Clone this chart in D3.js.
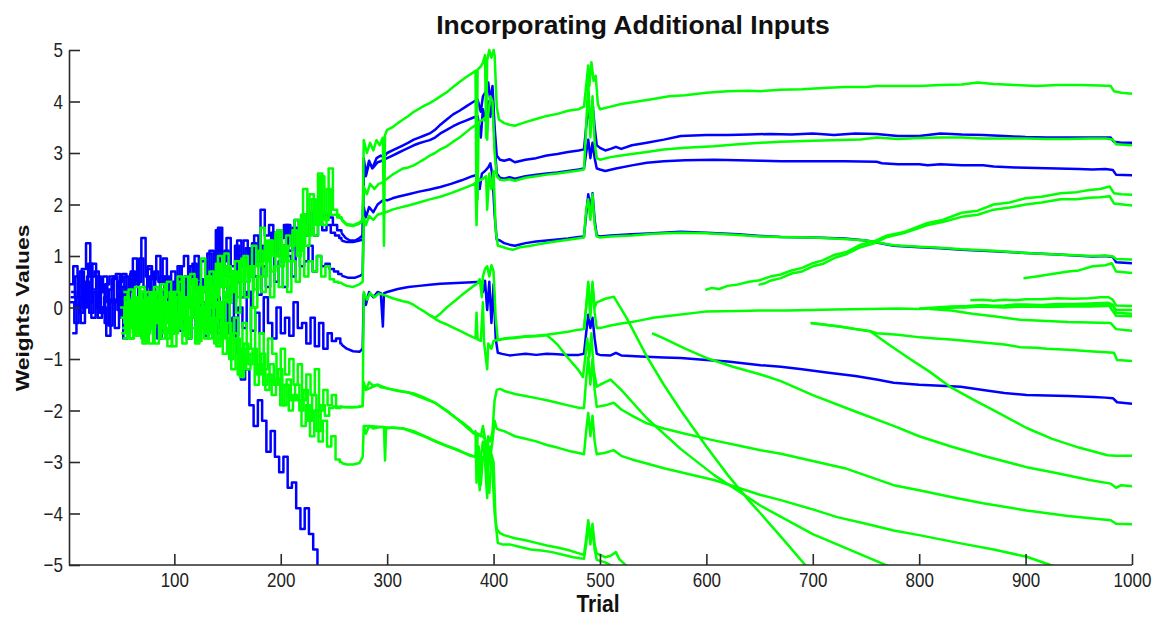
<!DOCTYPE html>
<html>
<head>
<meta charset="utf-8">
<script src="https://cdn.jsdelivr.net/npm/d3@7"></script>
<style>
  body { margin: 0; background: #fff; }
  text { font-family: "Liberation Sans", Arial, sans-serif; }
</style>
</head>
<body>
<svg id="chart" width="1160" height="618"></svg>
<script>
// ---- tick labels ----
const xTicks = [100, 200, 300, 400, 500, 600, 700, 800, 900, 1000];
const yTicks = [-5, -4, -3, -2, -1, 0, 1, 2, 3, 4, 5];

// ---- early noisy phase: one value every 4 trials, each weight sampled at its own offset ----
const noiseStep = 4;

const blueNoiseA = [
  0.45, 0.8, 0.2, 0.75, 1.25, 0.6, 0.7, 0.3,
  0.6, 0.1, 0.55, 0.65, 0.2, 0.6, 0.35, 0.95,
  0.5, 1.35, 0.6, 0.2, 0.7, 0.5, 0.95, 0.4,
  0.7, 0.25, 0.8, 1.0, 0.5, 0.85, 0.3, 0.9,
  0.6, 1.1, 0.7, 1.55, 0.9, 1.35, 0.8, 1.2,
  0.9, 1.3, 1.0, 1.25, 0.9, 1.9, 1.4, 1.6,
  1.1, 1.5, 1.2, 1.6, 1.3, 1.7, 1.5, 1.8,
  1.6, 1.85, 2.0, 1.75, 1.8, 1.75, 1.6, 1.5];
const blueNoiseB = [
  0.3, 0.05, 0.7, 0.4, 0.85, 0.35, 0.6, 0.0,
  0.45, 0.6, 0.15, 0.5, 0.65, 0.3, 0.7, 0.45,
  0.95, 0.4, 0.8, 0.55, 1.0, 0.3, 0.6, 0.2,
  0.5, 0.8, 0.15, 0.6, 0.45, 1.0, 0.55, 0.4,
  1.05, 0.5, 1.5, 0.6, 1.1, 0.7, 0.45, 1.3,
  0.8, 1.15, 0.6, 1.4, 0.9, 1.2, 1.1, 1.45,
  1.0, 1.35, 1.6, 1.1, 1.55, 1.35, 1.7, 1.4,
  1.55, 1.4, 1.65, 1.5, 1.6, 1.45, 1.4, 1.35];
const blueNoiseC = [
  0.1, -0.3, 0.4, 0.0, 0.6, -0.2, 0.3, -0.1,
  0.2, -0.35, 0.1, 0.5, -0.2, 0.3, 0.0, 0.55,
  -0.1, 0.3, 0.0, 0.6, 0.1, -0.3, 0.35, 0.0,
  0.4, -0.15, 0.25, 0.6, 0.05, 0.45, -0.1, 0.3,
  0.0, 0.55, 0.15, 0.8, 0.2, 0.6, 0.1, 0.5,
  0.2, 0.9, 0.3, 0.6, 0.25, 0.8, 0.4, 1.1,
  0.5, 0.9, 0.4, 1.0, 0.6, 1.3, 0.8, 0.9,
  1.2, 0.7, 1.0, 0.8, 0.85, 0.75, 0.7, 0.65];
const blueNoiseD = [
  -0.5, 0.2, -0.3, 0.5, -0.1, 0.3, -0.2, 0.0,
  -0.55, 0.15, -0.4, 0.3, -0.6, 0.1, -0.3, 0.2,
  -0.55, 0.0, -0.4, 0.25, -0.6, -0.1, 0.2, -0.5,
  0.1, -0.45, -0.1, -0.6, 0.2, -0.35, 0.05, -0.55,
  -0.2, 0.3, -0.5, 0.1, -0.3, 0.4, -0.55, 0.0,
  -0.4, 0.3, -0.45, -0.1, -0.5, 0.2, -0.3, -0.6,
  0.0, -0.5, -0.2, -0.55, 0.1, -0.4, -0.3, -0.7,
  -0.2, -0.75, -0.3, -0.8, -0.5, -0.65, -0.6, -0.7];
const blueNoiseE = [
  0.2, 0.6, -0.1, 0.45, 0.1, 0.85, 0.0, 0.3,
  -0.3, 0.35, 0.6, -0.05, 0.4, 0.0, 0.65, -0.2,
  0.3, 0.1, 0.75, -0.3, 0.2, 0.6, -0.1, 0.4,
  0.0, 0.6, -0.3, 0.3, 0.8, -0.05, 0.5, 0.1,
  0.35, -0.3, 0.2, -0.4, 0.1, -0.5, -0.2, -0.9,
  -1.4, -1.2, -1.9, -2.3, -1.8, -2.2, -2.8, -2.4,
  -2.9, -3.2, -2.9, -3.5, -3.4, -3.9, -4.3, -3.9,
  -4.4, -4.7, -5.3];

const greenNoiseA = [
  0.0, -0.3, 0.35, -0.5, 0.2, -0.6, 0.3, -0.1,
  0.4, -0.3, 0.2, 0.5, -0.4, 0.3, 0.0, 0.6,
  -0.2, 0.55, 0.1, 0.95, 0.3, 0.7, 0.2, 1.0,
  0.4, 0.8, 0.3, 0.9, 0.5, 1.0, 0.6, 1.2,
  0.8, 1.55, 0.9, 1.3, 1.0, 1.5, 0.9, 1.4,
  1.2, 1.7, 1.1, 2.3, 1.4, 2.1, 1.6, 2.55,
  1.7, 2.7, 1.9, 1.75];
const greenNoiseB = [
  -0.4, 0.1, -0.2, 0.4, -0.5, 0.15, -0.3, 0.3,
  -0.2, 0.45, 0.0, -0.5, 0.3, 0.6, -0.1, 0.2,
  0.65, 0.0, 0.4, -0.2, 0.6, 0.1, 0.85, 0.4,
  1.05, 0.3, 0.7, 0.2, 0.95, 0.5, 0.8, 0.35,
  1.1, 0.6, 1.3, 0.7, 1.45, 0.8, 1.2, 0.9,
  1.5, 1.0, 1.8, 1.2, 2.2, 1.4, 2.6, 1.6,
  2.3, 1.8, 1.8, 1.75];
const greenNoiseC = [
  -0.5, -0.1, -0.6, 0.2, -0.3, -0.7, 0.0, -0.4,
  0.3, -0.5, 0.1, -0.3, -0.75, 0.2, -0.4, 0.0,
  0.5, -0.2, 0.3, -0.4, 0.6, 0.0, 0.4, -0.2,
  0.7, 0.1, 0.5, -0.1, 0.9, 0.2, 0.7, 0.0,
  0.6, 0.3, 1.0, 0.2, 0.8, 0.4, 1.1, 0.3,
  0.9, 0.5, 1.2, 0.6, 0.9, 0.7, 1.0, 0.6,
  0.8, 0.55, 0.5, 0.48];
const greenNoiseD = [
  0.3, -0.4, 0.1, -0.55, 0.4, -0.2, -0.7, 0.1,
  -0.3, 0.35, -0.6, 0.0, -0.45, 0.5, -0.2, -0.6,
  0.2, -0.5, 0.0, -0.6, 0.45, -0.3, 0.1, -0.55,
  0.3, -0.7, -0.2, -1.0, -0.3, -0.8, 0.0, -1.1,
  -0.5, -1.2, -0.6, -0.9, -1.4, -0.8, -1.3, -1.0,
  -1.5, -1.1, -1.8, -1.3, -1.7, -1.2, -2.0, -1.6,
  -1.9, -1.7, -1.95, -1.92];
const greenNoiseE = [
  -0.2, 0.2, -0.6, 0.0, -0.35, 0.3, -0.5, -0.1,
  -0.7, 0.1, -0.4, -0.75, 0.2, -0.3, 0.05, -0.55,
  -0.2, 0.3, -0.65, -0.1, -0.5, 0.2, -0.7, 0.0,
  -0.9, -0.3, -1.2, -0.6, -1.35, -0.7, -1.1, -0.8,
  -1.3, -0.9, -1.6, -1.1, -1.5, -1.2, -1.9, -1.4,
  -1.8, -1.5, -2.0, -1.6, -2.2, -1.7, -2.4, -1.9,
  -2.1, -1.95, -1.92, -1.93];
const greenNoiseF = [
  -0.6, -0.2, 0.15, -0.5, -0.1, -0.65, 0.2, -0.3,
  0.1, -0.6, -0.2, 0.3, -0.5, -0.1, -0.7, 0.2,
  -0.4, -0.7, 0.1, -0.3, -0.6, -0.2, -0.75, -0.3,
  -0.6, -1.0, -0.5, -1.3, -0.8, -1.2, -0.9, -1.5,
  -1.1, -1.5, -1.3, -1.7, -1.4, -1.9, -1.5, -2.0,
  -1.7, -1.8, -2.3, -1.9, -2.5, -2.0, -2.6, -2.2,
  -2.7, -2.5, -2.95, -3.0];

// ---- later phase: [trial, weight] ----
const blueTailA = [[257,1.45],[261,1.35],[265,1.3],[270,1.3],[274,1.35],[277,1.4],[278,2.9],[280,2.6],[283,2.85],[286,2.7],[290,2.9],[294,2.95],[297,2.92],[300,3.0],[305,3.05],[310,3.1],[315,3.15],[320,3.2],[325,3.26],[330,3.3],[335,3.34],[340,3.38],[345,3.45],[350,3.55],[356,3.65],[362,3.75],[368,3.82],[374,3.9],[380,3.98],[385,4.04],[388,3.8],[390,4.1],[393,4.2],[395,4.37],[397,4.0],[399,4.3],[401,3.5],[403,2.95],[406,2.87],[410,2.85],[415,2.88],[420,2.82],[430,2.87],[440,2.9],[450,2.95],[460,2.98],[470,3.02],[480,3.05],[485,3.07],[487,3.5],[489,3.9],[491,3.6],[493,3.98],[495,3.5],[497,3.15],[500,3.1],[505,3.05],[510,3.08],[515,3.12],[520,3.08],[530,3.15],[544,3.2],[560,3.26],[576,3.33],[600,3.35],[620,3.35],[640,3.36],[660,3.37],[680,3.36],[700,3.38],[720,3.35],[740,3.38],[760,3.37],[780,3.33],[800,3.33],[820,3.38],[840,3.36],[860,3.35],[880,3.33],[900,3.31],[920,3.3],[940,3.3],[960,3.3],[980,3.3],[983,3.22],[990,3.2],[1000,3.2]];
const blueTailB = [[257,1.3],[262,1.27],[268,1.27],[274,1.3],[277,1.32],[278,2.75],[280,2.55],[283,2.8],[287,2.72],[291,2.82],[294,2.84],[300,2.9],[305,2.95],[310,3.0],[315,3.05],[320,3.1],[325,3.15],[330,3.19],[335,3.22],[340,3.25],[345,3.3],[350,3.38],[356,3.45],[362,3.52],[368,3.58],[374,3.63],[380,3.68],[385,3.72],[388,3.3],[390,3.85],[393,3.6],[395,4.0],[397,3.7],[399,4.1],[401,3.2],[403,2.6],[406,2.52],[410,2.5],[415,2.53],[420,2.5],[430,2.55],[440,2.58],[450,2.6],[460,2.62],[470,2.65],[480,2.68],[485,2.7],[487,3.0],[489,3.26],[491,2.9],[493,3.2],[495,2.9],[497,2.7],[500,2.68],[505,2.65],[515,2.7],[530,2.76],[544,2.81],[560,2.84],[580,2.86],[607,2.87],[630,2.86],[651,2.85],[670,2.84],[700,2.84],[730,2.84],[760,2.83],[765,2.8],[780,2.78],[800,2.78],[808,2.76],[820,2.78],[840,2.76],[860,2.76],[870,2.74],[890,2.72],[910,2.71],[930,2.7],[950,2.69],[963,2.68],[975,2.69],[982,2.67],[985,2.58],[1000,2.57]];
const blueTailC = [[257,0.62],[263,0.58],[270,0.58],[275,0.62],[277,0.65],[278,1.95],[280,1.75],[283,1.95],[287,1.85],[291,2.0],[294,2.05],[297,2.1],[300,2.08],[305,2.12],[310,2.15],[320,2.2],[330,2.25],[340,2.29],[350,2.34],[360,2.4],[370,2.47],[380,2.55],[385,2.58],[387,2.3],[389,2.6],[392,2.65],[395,2.72],[397,2.8],[399,2.55],[401,1.8],[403,1.32],[406,1.3],[410,1.25],[415,1.22],[420,1.2],[430,1.25],[440,1.28],[450,1.3],[460,1.32],[470,1.34],[480,1.37],[485,1.38],[487,1.8],[489,2.2],[491,1.9],[493,2.22],[495,1.7],[497,1.4],[500,1.38],[510,1.4],[530,1.42],[550,1.44],[576,1.47],[600,1.45],[630,1.42],[651,1.39],[670,1.37],[700,1.36],[730,1.34],[750,1.3],[776,1.2],[800,1.17],[820,1.15],[840,1.12],[870,1.09],[900,1.06],[930,1.03],[963,0.99],[975,1.0],[982,0.98],[985,0.88],[1000,0.86]];
const blueTailD = [[257,-0.72],[262,-0.8],[268,-0.85],[274,-0.86],[277,-0.8],[278,0.25],[280,0.05],[283,0.3],[287,0.2],[291,0.3],[294,0.28],[296,-0.37],[297,0.28],[300,0.3],[305,0.33],[310,0.36],[315,0.38],[320,0.4],[330,0.42],[340,0.44],[350,0.46],[360,0.47],[370,0.48],[380,0.49],[388,0.5],[390,0.3],[392,0.52],[394,-0.05],[396,0.5],[398,-0.3],[400,0.45],[402,-0.6],[404,-0.88],[408,-0.9],[415,-0.93],[420,-0.92],[430,-0.9],[440,-0.92],[450,-0.9],[460,-0.91],[470,-0.92],[480,-0.92],[485,-0.9],[487,-0.5],[489,-0.14],[491,-0.4],[493,-0.2],[495,-0.6],[497,-0.9],[500,-0.92],[510,-0.93],[515,-0.88],[520,-0.93],[538,-0.95],[560,-0.97],[576,-0.98],[600,-1.02],[620,-1.05],[651,-1.12],[670,-1.15],[690,-1.2],[713,-1.26],[740,-1.33],[760,-1.4],[776,-1.46],[800,-1.5],[820,-1.52],[839,-1.54],[860,-1.6],[880,-1.66],[901,-1.7],[920,-1.71],[940,-1.72],[964,-1.74],[975,-1.75],[982,-1.76],[986,-1.84],[1000,-1.87]];

const greenTailA = [[257,1.7],[262,1.6],[268,1.58],[274,1.63],[277,1.68],[278,3.25],[281,3.0],[284,3.2],[287,3.05],[290,3.25],[293,3.15],[296,3.3],[297,1.2],[298,3.35],[300,3.45],[305,3.5],[310,3.58],[315,3.65],[320,3.72],[325,3.8],[330,3.86],[335,3.92],[340,3.97],[345,4.03],[350,4.1],[356,4.18],[362,4.28],[368,4.38],[374,4.47],[380,4.55],[383,4.6],[384,1.84],[385,4.62],[388,4.68],[390,4.75],[392,4.9],[393,3.3],[394,4.8],[396,5.0],[398,4.85],[400,5.0],[401,4.9],[403,3.9],[405,3.65],[410,3.58],[415,3.55],[420,3.53],[430,3.6],[440,3.66],[450,3.72],[460,3.76],[470,3.82],[480,3.85],[485,3.9],[487,4.3],[489,4.7],[490,4.3],[492,4.76],[494,4.4],[496,4.5],[498,3.95],[500,3.85],[510,3.9],[520,3.95],[535,4.0],[550,4.05],[565,4.1],[580,4.12],[600,4.17],[620,4.2],[640,4.21],[651,4.2],[670,4.23],[690,4.24],[710,4.26],[730,4.28],[750,4.28],[760,4.3],[780,4.3],[800,4.3],[820,4.32],[840,4.33],[855,4.37],[870,4.34],[890,4.32],[910,4.3],[930,4.32],[950,4.32],[970,4.31],[980,4.3],[983,4.2],[990,4.17],[1000,4.15]];
const greenTailB = [[257,1.72],[262,1.62],[268,1.6],[274,1.65],[277,1.7],[278,2.35],[281,2.2],[284,2.4],[288,2.3],[292,2.4],[295,2.42],[300,2.5],[305,2.58],[310,2.64],[315,2.7],[320,2.72],[325,2.76],[330,2.82],[335,2.88],[340,2.95],[345,3.0],[350,3.07],[356,3.13],[362,3.22],[368,3.3],[374,3.4],[380,3.5],[384,3.55],[385,2.1],[386,3.6],[390,3.65],[393,3.7],[394,3.26],[395,3.75],[397,4.1],[399,4.0],[401,3.0],[403,2.55],[406,2.48],[410,2.47],[415,2.49],[420,2.46],[430,2.52],[440,2.55],[450,2.58],[460,2.6],[470,2.63],[480,2.66],[485,2.68],[487,3.5],[489,4.4],[491,3.3],[493,4.1],[495,3.2],[497,2.9],[500,2.87],[510,2.92],[520,2.95],[530,2.98],[544,3.02],[560,3.07],[580,3.1],[607,3.13],[630,3.17],[651,3.2],[670,3.22],[700,3.24],[745,3.26],[760,3.3],[780,3.27],[800,3.29],[820,3.3],[840,3.3],[860,3.28],[880,3.28],[900,3.28],[920,3.27],[940,3.27],[960,3.28],[975,3.28],[982,3.26],[985,3.17],[1000,3.15]];
const greenTailC = [[257,0.47],[262,0.42],[268,0.4],[274,0.45],[277,0.5],[278,1.75],[280,1.6],[283,1.78],[287,1.7],[291,1.8],[294,1.82],[297,1.84],[300,1.86],[305,1.9],[310,1.93],[320,1.98],[330,2.04],[340,2.1],[350,2.15],[360,2.22],[370,2.3],[380,2.38],[383,2.42],[384,1.6],[385,2.45],[390,2.5],[393,2.55],[394,1.9],[396,2.6],[398,2.3],[400,2.65],[402,1.5],[404,1.2],[408,1.18],[412,1.15],[418,1.12],[425,1.17],[435,1.2],[445,1.24],[455,1.27],[465,1.3],[475,1.33],[485,1.36],[487,1.9],[489,2.1],[491,1.7],[493,2.2],[495,1.6],[497,1.38],[500,1.36],[510,1.38],[530,1.4],[550,1.43],[576,1.45],[600,1.44],[630,1.41],[651,1.38],[670,1.37],[700,1.36],[729,1.33],[750,1.3],[776,1.21],[800,1.18],[820,1.16],[840,1.13],[870,1.1],[900,1.06],[930,1.03],[963,1.0],[975,1.01],[982,0.99],[985,0.94],[1000,0.93]];
const greenTailD = [[257,-1.93],[265,-1.93],[272,-1.93],[277,-1.9],[278,0.3],[281,0.15],[284,0.28],[288,0.2],[292,0.27],[296,0.25],[300,0.22],[305,0.18],[310,0.15],[315,0.12],[320,0.1],[325,0.05],[330,-0.02],[335,-0.08],[340,-0.15],[345,-0.22],[350,-0.28],[355,-0.32],[360,-0.37],[365,-0.42],[370,-0.47],[375,-0.52],[380,-0.57],[383,-0.6],[384,-0.1],[385,-0.62],[388,-0.65],[390,0.1],[391,-0.66],[394,-1.2],[395,-0.7],[398,-0.8],[400,-0.65],[403,-0.63],[406,-0.62],[410,-0.6],[420,-0.58],[430,-0.56],[440,-0.55],[450,-0.53],[460,-0.5],[470,-0.47],[480,-0.43],[485,-0.42],[487,0.0],[489,0.45],[491,-0.2],[493,0.5],[495,-0.1],[497,-0.4],[500,-0.4],[510,-0.35],[520,-0.31],[530,-0.28],[538,-0.25],[550,-0.2],[570,-0.15],[599,-0.08],[630,-0.07],[650,-0.06],[676,-0.06],[700,-0.05],[720,-0.04],[754,-0.03],[780,-0.02],[801,-0.03],[820,-0.01],[840,0.0],[860,0.02],[880,0.0],[900,0.02],[920,0.01],[940,0.02],[960,0.02],[975,0.03],[982,0.04],[985,-0.05],[1000,-0.05]];
const greenTailE = [[257,-1.93],[266,-1.94],[273,-1.93],[277,-1.92],[278,-1.45],[280,-1.6],[283,-1.45],[287,-1.52],[291,-1.5],[294,-1.55],[300,-1.57],[310,-1.62],[320,-1.65],[325,-1.67],[335,-1.75],[345,-1.85],[356,-2.0],[365,-2.15],[372,-2.25],[378,-2.35],[381,-2.44],[383,-2.4],[384,-3.4],[385,-2.45],[388,-2.5],[390,-2.3],[392,-2.55],[394,-3.5],[395,-2.5],[397,-2.6],[399,-2.4],[401,-1.8],[403,-1.6],[406,-1.58],[410,-1.62],[420,-1.68],[430,-1.72],[440,-1.76],[450,-1.8],[460,-1.85],[470,-1.9],[481,-1.95],[485,-1.95],[487,-1.4],[489,-0.96],[491,-1.5],[493,-1.0],[495,-1.6],[497,-1.93],[505,-1.9],[513,-1.85],[520,-1.98],[530,-2.1],[544,-2.25],[560,-2.35],[580,-2.45],[607,-2.58],[630,-2.68],[651,-2.77],[670,-2.84],[700,-2.98],[730,-3.12],[776,-3.45],[800,-3.55],[830,-3.68],[860,-3.8],[901,-3.94],[940,-4.05],[980,-4.13],[985,-4.2],[1000,-4.21]];
const greenTailF = [[257,-3.02],[262,-3.05],[268,-3.05],[274,-3.02],[277,-2.9],[278,-2.3],[280,-2.45],[283,-2.3],[287,-2.35],[291,-2.33],[294,-2.32],[297,-2.32],[298,-2.97],[299,-2.35],[305,-2.33],[315,-2.35],[325,-2.4],[335,-2.5],[345,-2.6],[355,-2.68],[365,-2.75],[372,-2.82],[378,-2.88],[383,-2.9],[384,-2.6],[385,-2.95],[387,-3.55],[388,-2.9],[390,-2.6],[392,-3.0],[394,-3.7],[395,-2.8],[397,-2.9],[399,-2.6],[401,-2.2],[403,-2.35],[406,-2.38],[410,-2.4],[420,-2.5],[430,-2.55],[440,-2.6],[450,-2.67],[460,-2.72],[470,-2.78],[481,-2.83],[485,-2.85],[487,-2.4],[489,-2.05],[491,-2.5],[493,-2.1],[495,-2.6],[497,-2.85],[505,-2.82],[513,-2.77],[520,-2.88],[530,-2.95],[544,-3.03],[560,-3.12],[580,-3.22],[607,-3.35],[630,-3.5],[651,-3.64],[670,-3.74],[700,-3.92],[723,-4.07],[750,-4.2],[776,-4.33],[800,-4.42],[839,-4.58],[870,-4.7],[901,-4.84],[926,-5.02]];

// weights that split off or drop at the trial-400 switch
const greenSplitUp = [[340,-0.15],[345,-0.2],[350,-0.12],[355,-0.02],[360,0.07],[365,0.15],[370,0.24],[375,0.32],[380,0.4],[385,0.47],[387,0.55],[389,0.2],[390,0.6],[392,0.75],[394,0.8],[396,0.6],[398,0.82],[400,0.7],[402,-0.2],[404,-0.63],[410,-0.61],[420,-0.59],[430,-0.57],[440,-0.56],[450,-0.54],[455,-0.62],[460,-0.72],[465,-0.85],[470,-0.98],[475,-1.1],[480,-1.22],[484,-1.35],[486,-1.0],[488,-0.6],[490,-0.96],[492,-0.5],[494,-1.2],[497,-1.54],[500,-1.5],[505,-1.45],[510,-1.4],[520,-1.6],[544,-2.15],[576,-2.75],[607,-3.25],[651,-3.85],[700,-4.4],[740,-4.75],[771,-5.02]];
const greenDropA = [[280,-1.6],[291,-1.5],[300,-1.57],[320,-1.65],[345,-1.85],[365,-2.15],[381,-2.44],[385,-2.45],[390,-2.5],[393,-2.6],[395,-3.1],[397,-2.7],[399,-3.2],[401,-4.0],[403,-4.3],[406,-4.38],[410,-4.42],[420,-4.48],[430,-4.52],[440,-4.57],[450,-4.62],[460,-4.66],[470,-4.71],[481,-4.78],[485,-4.8],[487,-4.5],[489,-4.13],[491,-4.5],[493,-4.2],[495,-4.6],[497,-4.78],[500,-4.8],[505,-4.85],[510,-4.82],[515,-4.75],[518,-4.88],[525,-5.02]];
const greenDropB = [[278,-2.3],[283,-2.3],[294,-2.32],[315,-2.35],[335,-2.5],[355,-2.68],[372,-2.82],[383,-2.9],[386,-2.7],[388,-3.45],[390,-2.9],[393,-3.0],[396,-3.6],[398,-2.85],[400,-3.0],[402,-4.2],[404,-4.57],[408,-4.6],[415,-4.6],[425,-4.65],[435,-4.7],[445,-4.72],[455,-4.75],[465,-4.8],[475,-4.85],[481,-4.87],[485,-4.88],[487,-4.6],[489,-4.2],[491,-4.6],[493,-4.3],[495,-4.7],[497,-4.9],[505,-4.95],[512,-5.02]];
const greenSteep = [[485,-0.42],[487,0.0],[489,0.5],[491,-0.1],[493,0.45],[495,0.0],[497,0.1],[505,0.17],[513,0.21],[525,-0.2],[544,-0.95],[560,-1.5],[576,-2.0],[600,-2.7],[620,-3.25],[640,-3.75],[651,-4.0],[670,-4.45],[695,-5.05]];

// inputs added later in the run
const greenAdd549 = [[549,-0.5],[560,-0.6],[580,-0.8],[600,-0.98],[625,-1.15],[651,-1.3],[670,-1.43],[700,-1.7],[740,-2.02],[776,-2.3],[800,-2.5],[830,-2.7],[860,-2.88],[901,-3.1],[930,-3.22],[960,-3.35],[980,-3.42],[985,-3.5],[990,-3.45],[1000,-3.47]];
const greenAdd600 = [[599,0.34],[605,0.38],[612,0.36],[620,0.42],[628,0.44],[640,0.5],[650,0.53],[660,0.6],[670,0.64],[680,0.72],[690,0.77],[700,0.86],[710,0.92],[720,1.02],[732,1.08],[745,1.22],[757,1.28],[770,1.4],[785,1.46],[808,1.64],[822,1.7],[840,1.84],[855,1.88],[870,2.0],[885,2.04],[900,2.12],[915,2.15],[933,2.22],[948,2.24],[960,2.28],[970,2.3],[979,2.35],[983,2.22],[990,2.2],[1000,2.19]];
const greenAdd650 = [[649,0.44],[655,0.47],[660,0.52],[670,0.57],[680,0.66],[690,0.7],[700,0.8],[710,0.85],[720,0.96],[732,1.04],[745,1.17],[757,1.24],[770,1.37],[785,1.44],[808,1.6],[822,1.66],[840,1.76],[855,1.8],[870,1.9],[885,1.94],[900,2.0],[915,2.04],[933,2.1],[948,2.1],[960,2.13],[970,2.14],[979,2.16],[983,2.02],[1000,1.98]];
const greenAdd700 = [[698,-0.3],[710,-0.33],[725,-0.37],[740,-0.42],[754,-0.46],[760,-0.5],[780,-0.53],[801,-0.58],[815,-0.6],[830,-0.62],[850,-0.66],[870,-0.7],[880,-0.72],[895,-0.77],[910,-0.78],[920,-0.8],[940,-0.82],[960,-0.85],[983,-0.88],[986,-1.02],[1000,-1.04]];
const greenAdd700b = [[698,-0.3],[725,-0.37],[754,-0.46],[770,-0.7],[790,-0.98],[810,-1.25],[829,-1.54],[850,-1.78],[875,-2.05],[901,-2.34],[925,-2.55],[950,-2.72],[977,-2.87],[985,-2.88],[1000,-2.88]];
const greenAdd800 = [[800,-0.02],[815,0.0],[830,0.02],[845,0.03],[860,0.05],[870,0.03],[880,0.04],[890,0.06],[900,0.06],[915,0.05],[930,0.07],[945,0.07],[960,0.08],[978,0.09],[982,0.05],[985,-0.1],[1000,-0.12]];
const greenAdd810 = [[810,-0.03],[830,-0.06],[850,-0.12],[870,-0.17],[895,-0.24],[920,-0.26],[940,-0.28],[960,-0.29],[980,-0.3],[985,-0.42],[1000,-0.45]];
const greenAdd840 = [[840,0.0],[855,0.03],[870,0.03],[885,0.02],[900,0.03],[920,0.04],[940,0.04],[960,0.05],[978,0.05],[985,-0.16],[1000,-0.17]];
const greenAdd848 = [[848,0.14],[860,0.15],[870,0.13],[880,0.15],[890,0.14],[900,0.16],[915,0.16],[930,0.18],[945,0.17],[960,0.18],[970,0.2],[978,0.2],[982,0.15],[985,0.04],[1000,0.03]];
const greenAdd898 = [[898,0.57],[910,0.6],[925,0.65],[940,0.7],[950,0.72],[963,0.8],[975,0.82],[981,0.86],[985,0.7],[1000,0.67]];

const BLUE = "#0000ff";
const GREEN = "#00ff00";

const seriesList = [
  { color: BLUE, start: 1, noise: blueNoiseA, tail: blueTailA },
  { color: BLUE, start: 3, noise: blueNoiseB, tail: blueTailB },
  { color: BLUE, start: 2, noise: blueNoiseC, tail: blueTailC },
  { color: BLUE, start: 4, noise: blueNoiseD, tail: blueTailD },
  { color: BLUE, start: 2.5, noise: blueNoiseE, tail: [] },
  { color: GREEN, start: 49, noise: greenNoiseA, tail: greenTailA },
  { color: GREEN, start: 51, noise: greenNoiseB, tail: greenTailB },
  { color: GREEN, start: 50, noise: greenNoiseC, tail: greenTailC },
  { color: GREEN, start: 52, noise: greenNoiseD, tail: greenTailD },
  { color: GREEN, start: 49.5, noise: greenNoiseE, tail: greenTailE },
  { color: GREEN, start: 51.5, noise: greenNoiseF, tail: greenTailF },
  { color: GREEN, tail: greenSplitUp },
  { color: GREEN, tail: greenDropA },
  { color: GREEN, tail: greenDropB },
  { color: GREEN, tail: greenSteep },
  { color: GREEN, tail: greenAdd549 },
  { color: GREEN, tail: greenAdd600 },
  { color: GREEN, tail: greenAdd650 },
  { color: GREEN, tail: greenAdd700 },
  { color: GREEN, tail: greenAdd700b },
  { color: GREEN, tail: greenAdd800 },
  { color: GREEN, tail: greenAdd810 },
  { color: GREEN, tail: greenAdd840 },
  { color: GREEN, tail: greenAdd848 },
  { color: GREEN, tail: greenAdd898 }
];

// ---- layout ----
const plot = { left: 69, right: 1132, top: 50, bottom: 565 };
const textStretch = 1.2;
const lineWidth = 2.5;

const svg = d3.select("#chart");
const x = d3.scaleLinear().domain([1, 1000]).range([plot.left, plot.right]);
const y = d3.scaleLinear().domain([-5, 5]).range([plot.bottom, plot.top]);

svg.append("defs").append("clipPath").attr("id", "plot-clip")
  .append("rect")
  .attr("x", plot.left).attr("y", plot.top - 2)
  .attr("width", plot.right - plot.left + 2)
  .attr("height", plot.bottom - plot.top + 2);

const stepLine = d3.line().x(d => x(d[0])).y(d => y(d[1])).curve(d3.curveStepAfter);
const straightLine = d3.line().x(d => x(d[0])).y(d => y(d[1]));

const lines = svg.append("g").attr("clip-path", "url(#plot-clip)");

function drawSeries(s) {
  const style = p => p.attr("fill", "none").attr("stroke", s.color)
    .attr("stroke-width", lineWidth).attr("stroke-linejoin", "round");
  if (s.noise) {
    let pts = s.noise.map((v, i) => [s.start + i * noiseStep, v]);
    if (s.tail.length) pts = pts.concat([s.tail[0]]);
    else pts = pts.concat([[pts[pts.length - 1][0] + noiseStep, pts[pts.length - 1][1]]]);
    lines.append("path").attr("d", stepLine(pts)).call(style);
  }
  if (s.tail.length) {
    lines.append("path").attr("d", straightLine(s.tail)).call(style);
  }
}
seriesList.filter(s => s.color === BLUE).forEach(drawSeries);
seriesList.filter(s => s.color === GREEN).forEach(drawSeries);

// ---- axes (inward ticks) ----
const axisColor = "#2b2b2b";
const yAxis = svg.append("g").attr("transform", `translate(${plot.left},0)`)
  .call(d3.axisLeft(y).tickValues(yTicks).tickSizeInner(-11).tickSizeOuter(0).tickPadding(6).tickFormat(d3.format("d")));
const xAxis = svg.append("g").attr("transform", `translate(0,${plot.bottom})`)
  .call(d3.axisBottom(x).tickValues(xTicks).tickSizeInner(-11).tickSizeOuter(0).tickPadding(6).tickFormat(d3.format("d")));

[yAxis, xAxis].forEach(a => {
  a.select(".domain").attr("stroke", axisColor).attr("stroke-width", 1.6);
  a.selectAll(".tick line").attr("stroke", axisColor).attr("stroke-width", 1.6);
  a.selectAll(".tick text")
    .attr("fill", "#222")
    .attr("font-size", 17)
    .attr("font-family", "'Liberation Sans', Arial, sans-serif")
    .attr("transform", `scale(1,${textStretch})`);
});
xAxis.select(".domain").attr("d", `M${plot.left},0H${plot.right}`);

// ---- titles ----
svg.append("text")
  .attr("x", 633).attr("y", 33.5)
  .attr("text-anchor", "middle")
  .attr("font-size", 26.5).attr("font-weight", "bold").attr("fill", "#111")
  .text("Incorporating Additional Inputs");

svg.append("text")
  .attr("transform", "translate(598,612) scale(1,1.1)")
  .attr("text-anchor", "middle")
  .attr("font-size", 21).attr("font-weight", "bold").attr("fill", "#111")
  .text("Trial");

svg.append("text")
  .attr("transform", `translate(29,308) scale(1,${textStretch}) rotate(-90)`)
  .attr("text-anchor", "middle")
  .attr("font-size", 19).attr("font-weight", "bold").attr("fill", "#111")
  .text("Weights Values");
</script>
</body>
</html>
